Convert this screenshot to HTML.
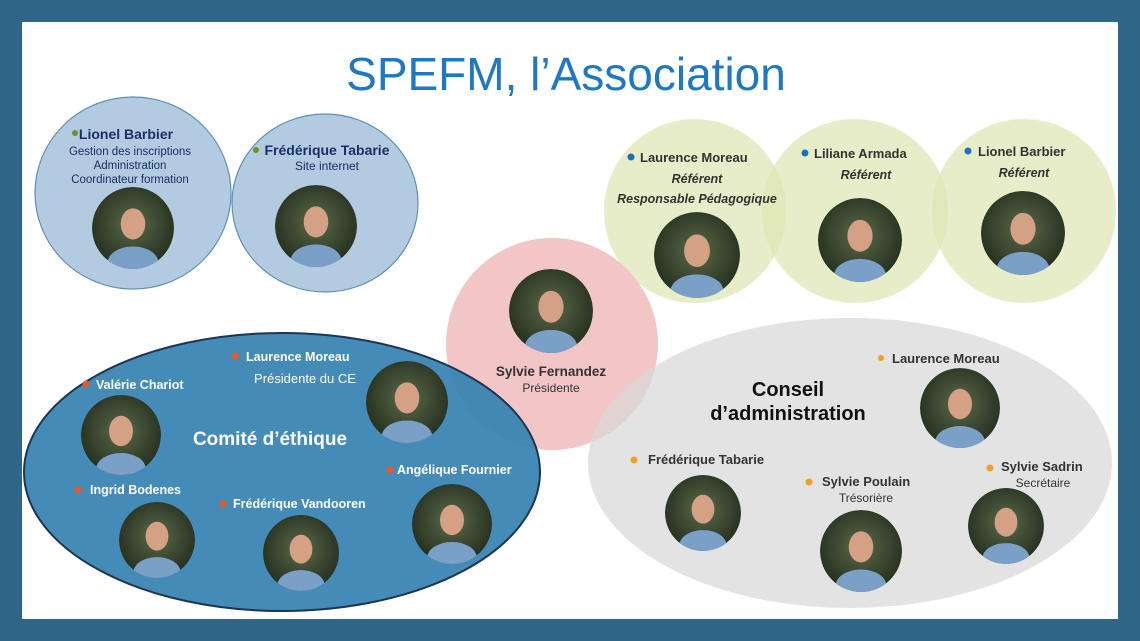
<!DOCTYPE html>
<html><head><meta charset="utf-8"><style>
html,body{margin:0;padding:0;background:#2f6688;}
svg{display:block}
text{font-family:"Liberation Sans",sans-serif}
</style></head><body>
<svg width="1140" height="641" viewBox="0 0 1140 641" xmlns="http://www.w3.org/2000/svg">
<defs>
<radialGradient id="ph" cx="50%" cy="45%" r="55%"><stop offset="0" stop-color="#5a6a4a"/><stop offset="1" stop-color="#26301f"/></radialGradient>
<clipPath id="cc"><circle r="1"/></clipPath>
<g id="p"><g clip-path="url(#cc)"><circle r="1" fill="url(#ph)"/><ellipse cx="0" cy="-0.1" rx="0.3" ry="0.38" fill="#d4a184"/><ellipse cx="0" cy="0.85" rx="0.62" ry="0.4" fill="#7aa0c8"/></g></g>
</defs>
<rect x="0" y="0" width="1140" height="641" fill="#2f6688"/>
<rect x="22" y="22" width="1096" height="597" fill="#ffffff"/>
<text x="566" y="90" text-anchor="middle" font-size="46" fill="#1e78c2">SPEFM, l’Association</text>

<ellipse cx="133" cy="193" rx="98" ry="96" fill="#b3cbe0" stroke="#5f8fb5" stroke-width="1.2"/>
<ellipse cx="325" cy="203" rx="93" ry="89" fill="#b3cbe0" stroke="#5f8fb5" stroke-width="1.2"/>

<g fill="#dfe7b5" fill-opacity="0.75">
<ellipse cx="695" cy="211" rx="91" ry="92"/>
<ellipse cx="855" cy="211" rx="93" ry="92"/>
<ellipse cx="1024" cy="211" rx="92" ry="92"/>
</g>

<circle cx="552" cy="344" r="106" fill="#f2c6c6"/>
<ellipse cx="850" cy="463" rx="262" ry="145" fill="#d8d8d8" fill-opacity="0.72"/>
<ellipse cx="282" cy="472" rx="258" ry="139" fill="#3683b2" fill-opacity="0.93" stroke="#1d3550" stroke-width="2"/>

<!-- photos -->
<g>
<use href="#p" transform="translate(133,228) scale(41)"/>
<use href="#p" transform="translate(316,226) scale(41)"/>
<use href="#p" transform="translate(697,255) scale(43)"/>
<use href="#p" transform="translate(860,240) scale(42)"/>
<use href="#p" transform="translate(1023,233) scale(42)"/>
<use href="#p" transform="translate(551,311) scale(42)"/>
<use href="#p" transform="translate(960,408) scale(40)"/>
<use href="#p" transform="translate(703,513) scale(38)"/>
<use href="#p" transform="translate(861,551) scale(41)"/>
<use href="#p" transform="translate(1006,526) scale(38)"/>
<use href="#p" transform="translate(121,435) scale(40)"/>
<use href="#p" transform="translate(407,402) scale(41)"/>
<use href="#p" transform="translate(157,540) scale(38)"/>
<use href="#p" transform="translate(301,553) scale(38)"/>
<use href="#p" transform="translate(452,524) scale(40)"/>
</g>

<!-- top-left texts -->
<circle cx="75" cy="133" r="3" fill="#7a8a2a"/>
<text x="126" y="139" text-anchor="middle" font-size="14" font-weight="bold" fill="#1b2f66">Lionel Barbier</text>
<text x="130" y="155" text-anchor="middle" font-size="11.5" fill="#1b2f66">Gestion des inscriptions</text>
<text x="130" y="169" text-anchor="middle" font-size="11.5" fill="#1b2f66">Administration</text>
<text x="130" y="183" text-anchor="middle" font-size="11.5" fill="#1b2f66">Coordinateur formation</text>
<circle cx="256" cy="150" r="3" fill="#7a8a2a"/>
<text x="327" y="155" text-anchor="middle" font-size="14" font-weight="bold" fill="#1b2f66">Frédérique Tabarie</text>
<text x="327" y="170" text-anchor="middle" font-size="12" fill="#1b2f66">Site internet</text>

<!-- referents -->
<g fill="#333" font-size="13" font-weight="bold">
<circle cx="631" cy="157" r="3.5" fill="#1e6fc0"/>
<text x="640" y="162">Laurence Moreau</text>
<text x="697" y="183" text-anchor="middle" font-style="italic" font-size="12.5">Référent</text>
<text x="697" y="203" text-anchor="middle" font-style="italic" font-size="12.5">Responsable Pédagogique</text>
<circle cx="805" cy="153" r="3.5" fill="#1e6fc0"/>
<text x="814" y="158">Liliane  Armada</text>
<text x="866" y="179" text-anchor="middle" font-style="italic" font-size="12.5">Référent</text>
<circle cx="968" cy="151" r="3.5" fill="#1e6fc0"/>
<text x="978" y="156">Lionel Barbier</text>
<text x="1024" y="177" text-anchor="middle" font-style="italic" font-size="12.5">Référent</text>
</g>

<text x="551" y="376" text-anchor="middle" font-size="13.5" font-weight="bold" fill="#333">Sylvie Fernandez</text>
<text x="551" y="392" text-anchor="middle" font-size="12" fill="#333">Présidente</text>

<!-- CA -->
<text x="788" y="396" text-anchor="middle" font-size="20" font-weight="bold" fill="#111">Conseil</text>
<text x="788" y="420" text-anchor="middle" font-size="20" font-weight="bold" fill="#111">d’administration</text>
<g fill="#333" font-size="13" font-weight="bold">
<circle cx="881" cy="358" r="3" fill="#f0a020"/><text x="892" y="363">Laurence Moreau</text>
<circle cx="634" cy="460" r="3.5" fill="#f0a020"/><text x="648" y="464">Frédérique Tabarie</text>
<circle cx="809" cy="482" r="3.5" fill="#f0a020"/><text x="822" y="486">Sylvie Poulain</text>
<circle cx="990" cy="468" r="3.5" fill="#f0a020"/><text x="1001" y="471">Sylvie Sadrin</text>
</g>
<text x="866" y="502" text-anchor="middle" font-size="12" fill="#333">Trésorière</text>
<text x="1043" y="487" text-anchor="middle" font-size="12" fill="#333">Secrétaire</text>

<!-- CE -->
<text x="270" y="445" text-anchor="middle" font-size="19" font-weight="bold" fill="#fff">Comité d’éthique</text>
<g fill="#fff" font-size="12.5" font-weight="bold">
<circle cx="235" cy="356" r="3.5" fill="#e8582a"/><text x="246" y="361">Laurence Moreau</text>
<circle cx="86" cy="384" r="3.5" fill="#e8582a"/><text x="96" y="389">Valérie Chariot</text>
<circle cx="78" cy="490" r="3.5" fill="#e8582a"/><text x="90" y="494">Ingrid Bodenes</text>
<circle cx="223" cy="504" r="3.5" fill="#e8582a"/><text x="233" y="508">Frédérique Vandooren</text>
<circle cx="390" cy="470" r="3.5" fill="#e8582a"/><text x="397" y="474">Angélique Fournier</text>
</g>
<text x="305" y="383" text-anchor="middle" font-size="13" fill="#fff">Présidente du CE</text>
</svg>
</body></html>
